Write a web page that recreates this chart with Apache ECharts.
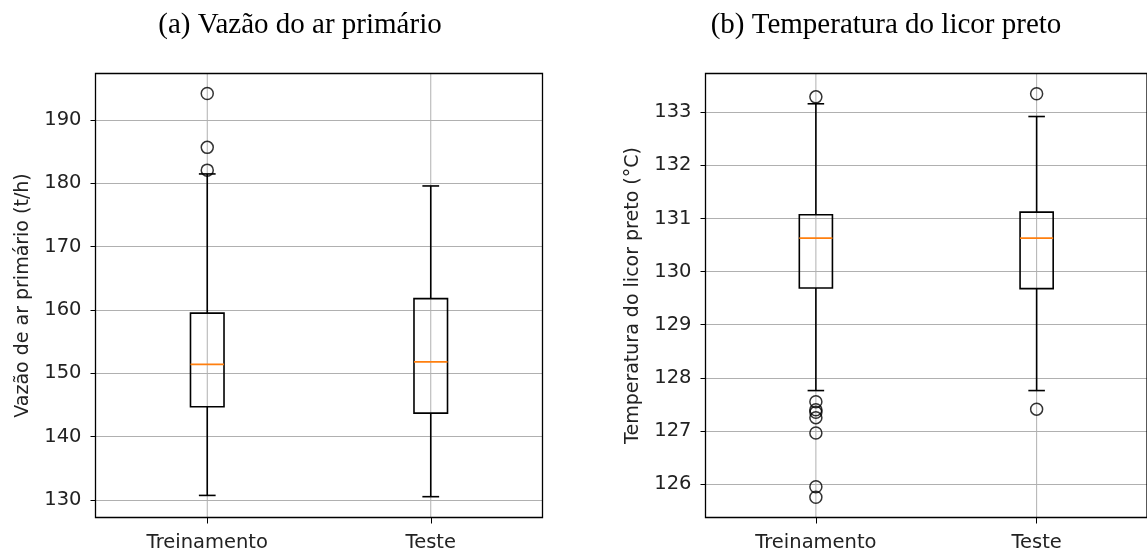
<!DOCTYPE html>
<html>
<head>
<meta charset="utf-8">
<title>Boxplots</title>
<script src="https://cdn.jsdelivr.net/npm/echarts@6/dist/echarts.min.js"></script>
<style>
  html, body { margin: 0; padding: 0; background: #fff; }
  #divChart { width: 1147px; height: 553px; }
</style>
</head>
<body>
<div id="divChart"></div>
<script>
/** categorias do eixo x */
var categories = ['Treinamento', 'Teste'];

/** (a) vazao do ar primario: [min, Q1, mediana, Q3, max] por categoria */
var vazaoBox = [
	[130.7, 144.7, 151.4, 159.5, 181.5],
	[130.5, 143.7, 151.8, 161.8, 179.6]
];
var vazaoOutliers = [
	[0, 194.2], [0, 185.7], [0, 182.1]
];

/** (b) temperatura do licor preto */
var tempBox = [
	[127.76, 129.69, 130.63, 131.07, 133.16],
	[127.76, 129.68, 130.63, 131.12, 132.92]
];
var tempOutliers = [
	[0, 133.29], [0, 127.55], [0, 127.40], [0, 127.35], [0, 127.25],
	[0, 126.96], [0, 125.95], [0, 125.75],
	[1, 133.35], [1, 127.41]
];

var titles = ['(a) Vazão do ar primário', '(b) Temperatura do licor preto'];
var yNames = ['Vazão de ar primário (t/h)', 'Temperatura do licor preto (°C)'];

var axisFont = 'DejaVu Sans';
var gridColor = '#b0b0b0';

/**
 * monta os dados da serie custom: [indice, min, q1, med, q3, max]
 */
function buildBoxData(box){
	var out = [];
	for(var i = 0; i < box.length; i++){
		out.push([i].concat(box[i]));
	}
	return out;
}

/**
 * desenha a caixa no estilo matplotlib (largura 0.15, capas com metade)
 */
function renderBox(params, api){
	var idx = api.value(0);
	var band = api.size([1, 0])[0];
	var half = band * 0.075;
	var cap = band * 0.0375;
	var pMin = api.coord([idx, api.value(1)]);
	var pQ1 = api.coord([idx, api.value(2)]);
	var pMed = api.coord([idx, api.value(3)]);
	var pQ3 = api.coord([idx, api.value(4)]);
	var pMax = api.coord([idx, api.value(5)]);
	var x = pMin[0];
	var cs = params.coordSys;
	var black = {stroke: '#000', lineWidth: 1.6, fill: null};
	return {
		type: 'group',
		children: [
			// linha de grade vertical
			{type: 'line', shape: {x1: x, y1: cs.y, x2: x, y2: cs.y + cs.height},
				style: {stroke: gridColor, lineWidth: 1}},
			{type: 'line', shape: {x1: x, y1: pQ1[1], x2: x, y2: pMin[1]}, style: black},
			{type: 'line', shape: {x1: x, y1: pQ3[1], x2: x, y2: pMax[1]}, style: black},
			{type: 'line', shape: {x1: x - cap, y1: pMin[1], x2: x + cap, y2: pMin[1]}, style: black},
			{type: 'line', shape: {x1: x - cap, y1: pMax[1], x2: x + cap, y2: pMax[1]}, style: black},
			{type: 'rect', shape: {x: x - half, y: pQ3[1], width: half * 2, height: pQ1[1] - pQ3[1]},
				style: black},
			{type: 'line', shape: {x1: x - half, y1: pMed[1], x2: x + half, y2: pMed[1]},
				style: {stroke: '#ff7f0e', lineWidth: 1.6}}
		]
	};
}

function makeXAxis(gridIndex){
	return {
		type: 'category', gridIndex: gridIndex, data: categories,
		axisLine: {show: false},
		axisTick: {show: true, alignWithLabel: true, length: 6, lineStyle: {color: '#000'}},
		axisLabel: {color: '#222', fontFamily: axisFont, fontSize: 19.5, margin: 15},
		splitLine: {show: false}
	};
}

function makeYAxis(gridIndex, min, max, split, name){
	return {
		type: 'value', gridIndex: gridIndex, min: min, max: max, splitNumber: split,
		name: name, nameLocation: 'middle', nameGap: 63,
		nameTextStyle: {color: '#222', fontFamily: axisFont, fontSize: 19},
		axisLine: {show: false},
		axisTick: {show: true, length: 5, lineStyle: {color: '#000'}},
		axisLabel: {color: '#222', fontFamily: axisFont, fontSize: 19.5, margin: 14,
			showMinLabel: false, showMaxLabel: false},
		splitLine: {show: true, lineStyle: {color: gridColor, width: 1}}
	};
}

function outlierSeries(idx, data){
	return {
		type: 'scatter', xAxisIndex: idx, yAxisIndex: idx, data: data,
		symbol: 'circle', symbolSize: 12, z: 5,
		itemStyle: {color: 'rgba(0,0,0,0)', borderColor: '#000', borderWidth: 1.5}
	};
}

var titleStyle = {fontFamily: 'Liberation Serif', fontWeight: 'normal', fontSize: 29, color: '#000'};

var option = {
	backgroundColor: '#fff',
	animation: false,
	title: [
		{text: titles[0], left: 300, top: 11, textAlign: 'center', padding: 0, textStyle: titleStyle},
		{text: titles[1], left: 886, top: 11, textAlign: 'center', padding: 0, textStyle: titleStyle}
	],
	// z alto para a moldura ficar por cima das linhas de grade
	grid: [
		{left: 95.5, top: 73.5, width: 447, height: 444, show: true, borderColor: '#000', borderWidth: 1.3,
			backgroundColor: 'transparent', z: 6},
		{left: 705.5, top: 73.5, width: 446, height: 444, show: true, borderColor: '#000', borderWidth: 1.3,
			backgroundColor: 'transparent', z: 6}
	],
	xAxis: [makeXAxis(0), makeXAxis(1)],
	yAxis: [
		makeYAxis(0, 127.21, 197.37, 7, yNames[0]),
		makeYAxis(1, 125.37, 133.73, 8, yNames[1])
	],
	series: [
		{type: 'custom', xAxisIndex: 0, yAxisIndex: 0, renderItem: renderBox,
			data: buildBoxData(vazaoBox), encode: {x: 0, y: [1, 2, 3, 4, 5]}},
		{type: 'custom', xAxisIndex: 1, yAxisIndex: 1, renderItem: renderBox,
			data: buildBoxData(tempBox), encode: {x: 0, y: [1, 2, 3, 4, 5]}},
		outlierSeries(0, vazaoOutliers),
		outlierSeries(1, tempOutliers)
	]
};

var divChart = echarts.init(document.getElementById('divChart'));
divChart.setOption(option);
</script>
</body>
</html>
